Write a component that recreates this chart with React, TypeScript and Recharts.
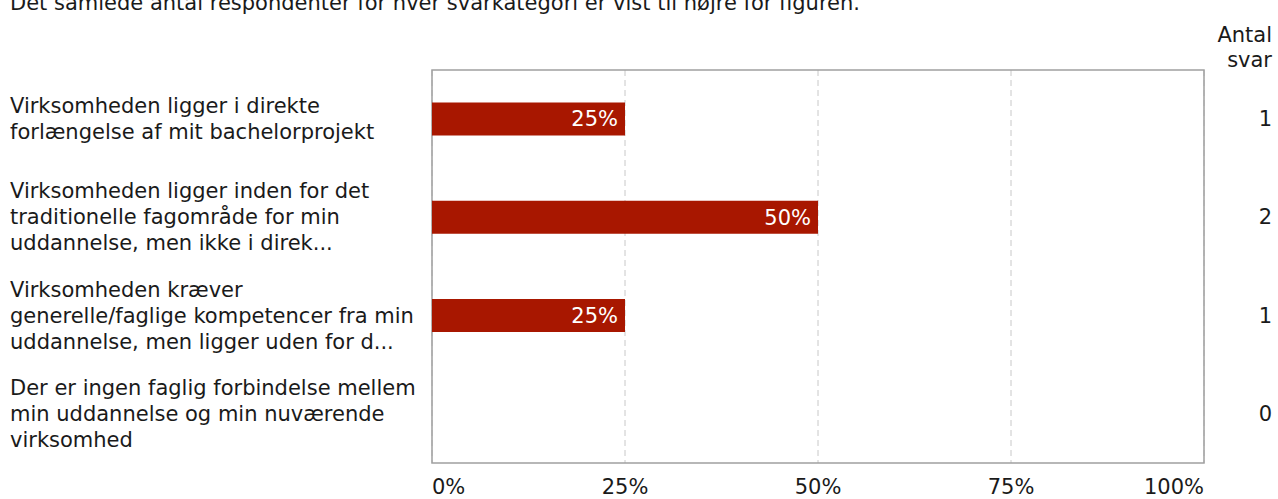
import { Bar, BarChart, CartesianGrid, LabelList, ReferenceArea, XAxis, YAxis } from "recharts";

// Kategorier (linjeskift som i figuren), andele og antal svar.
const categories = [
  "Virksomheden ligger i direkte\nforlængelse af mit bachelorprojekt",
  "Virksomheden ligger inden for det\ntraditionelle fagområde for min\nuddannelse, men ikke i direk...",
  "Virksomheden kræver\ngenerelle/faglige kompetencer fra min\nuddannelse, men ligger uden for d...",
  "Der er ingen faglig forbindelse mellem\nmin uddannelse og min nuværende\nvirksomhed",
];
const shares = [0.25, 0.5, 0.25, 0];
const counts = [1, 2, 1, 0];
const xTicks = [0, 0.25, 0.5, 0.75, 1];

const FONT = "'DejaVu Sans', Verdana, sans-serif";
const FS = 21;
const TEXT = "#1a1a1a";
const BAR = "#a81700";

const rows = categories.map((name, i) => ({ name, share: shares[i], count: counts[i] }));

function CategoryTick({ y, payload }: any) {
  const lines = String(payload.value).split("\n");
  const lh = 26;
  const start = y - ((lines.length - 1) * lh) / 2;
  return (
    <text x={10} y={start} fill={TEXT} fontSize={FS} fontFamily={FONT} dominantBaseline="central">
      {lines.map((l, i) => (
        <tspan key={i} x={10} y={start + i * lh}>
          {l}
        </tspan>
      ))}
    </text>
  );
}

function CountTick({ x, y, index }: any) {
  return (
    <text x={x + 60} y={y} fill={TEXT} fontSize={FS} fontFamily={FONT} textAnchor="end" dominantBaseline="central">
      {counts[index]}
    </text>
  );
}

function PercentTick({ x, y, payload, index }: any) {
  const anchor = index === 0 ? "start" : index === xTicks.length - 1 ? "end" : "middle";
  return (
    <text x={x} y={y + 16} fill={TEXT} fontSize={FS} fontFamily={FONT} textAnchor={anchor} dominantBaseline="central">
      {`${Math.round(payload.value * 100)}%`}
    </text>
  );
}

export default function App() {
  return (
    <div style={{ position: "absolute", left: 0, top: 0, width: 1278, height: 499, background: "#fff", overflow: "hidden", fontFamily: FONT }}>
      <div style={{ position: "absolute", left: 10, top: -7, fontSize: FS, lineHeight: "21px", color: TEXT, whiteSpace: "nowrap" }}>
        Det samlede antal respondenter for hver svarkategori er vist til højre for figuren.
      </div>
      <div style={{ position: "absolute", right: 6, top: 23, fontSize: FS, color: TEXT, textAlign: "right", lineHeight: "25px" }}>
        Antal
        <br />
        svar
      </div>
      <BarChart
        width={1278}
        height={499}
        data={rows}
        layout="vertical"
        margin={{ top: 70, right: 0, bottom: 0, left: 0 }}
        barCategoryGap="33%"
      >
        <CartesianGrid horizontal={false} stroke="#c8c8c8" strokeDasharray="6 4" />
        <XAxis
          type="number"
          domain={[0, 1]}
          ticks={xTicks}
          tick={<PercentTick />}
          tickLine={false}
          axisLine={false}
          height={36}
          interval={0}
        />
        <YAxis
          yAxisId="left"
          type="category"
          dataKey="name"
          width={432}
          tick={<CategoryTick />}
          tickLine={false}
          axisLine={false}
          interval={0}
        />
        <YAxis
          yAxisId="right"
          orientation="right"
          type="category"
          dataKey="name"
          width={74}
          tick={<CountTick />}
          tickLine={false}
          axisLine={false}
          interval={0}
        />
        <ReferenceArea yAxisId="left" x1={0} x2={1} fill="none" stroke="#a0a0a0" strokeWidth={1.5} />
        <Bar yAxisId="left" dataKey="share" fill={BAR} isAnimationActive={false}>
          <LabelList
            dataKey="share"
            position="insideRight"
            offset={7}
            fill="#fff"
            fontSize={FS}
            fontFamily={FONT}
            formatter={(v: any) => (v > 0 ? `${Math.round(v * 100)}%` : "")}
          />
        </Bar>
      </BarChart>
    </div>
  );
}
